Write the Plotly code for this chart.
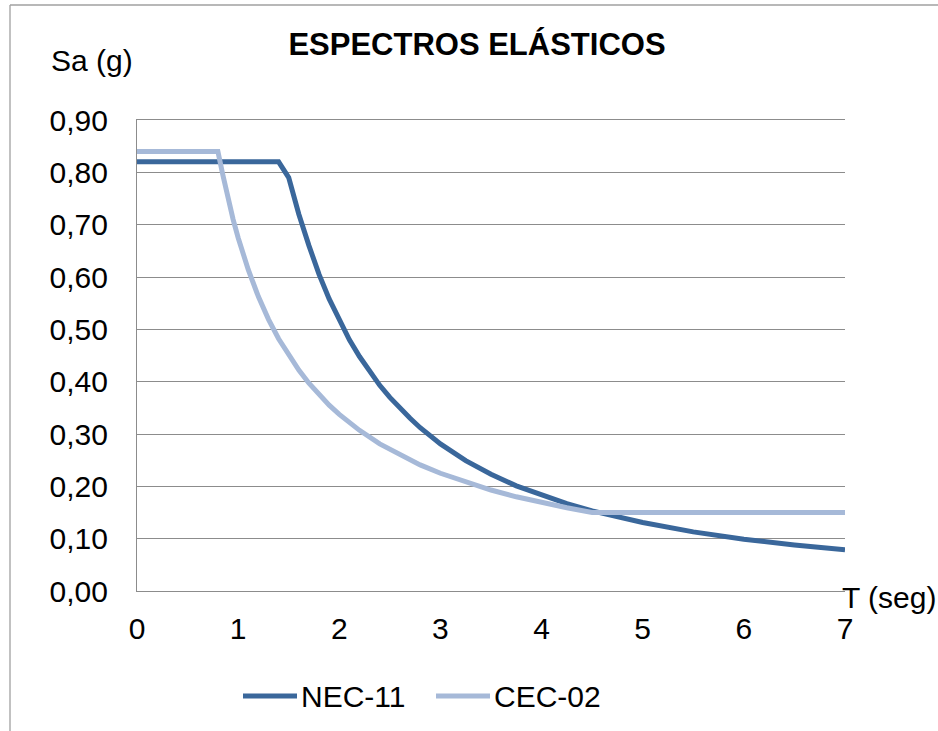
import plotly.graph_objects as go

# Periods (s) and spectral accelerations (g) for each code
t_nec = [0.0, 1.4, 1.5, 1.6, 1.7, 1.8, 1.9, 2.0, 2.1, 2.2, 2.3, 2.4, 2.5,
         2.6, 2.7, 2.8, 2.9, 3.0, 3.25, 3.5, 3.75, 4.0, 4.25, 4.5, 4.75,
         5.0, 5.5, 6.0, 6.5, 7.0]
sa_nec = [0.82, 0.82, 0.79, 0.72, 0.66, 0.605, 0.558, 0.517, 0.48, 0.448,
          0.419, 0.393, 0.37, 0.349, 0.33, 0.312, 0.296, 0.281, 0.249,
          0.223, 0.201, 0.183, 0.167, 0.153, 0.141, 0.131, 0.113, 0.099,
          0.088, 0.079]

t_cec = [0.0, 0.8, 0.85, 0.9, 0.95, 1.0, 1.1, 1.2, 1.3, 1.4, 1.5, 1.6, 1.7,
         1.8, 1.9, 2.0, 2.2, 2.4, 2.6, 2.8, 3.0, 3.25, 3.5, 3.75, 4.0, 4.25,
         4.5, 5.0, 6.0, 7.0]
sa_cec = [0.84, 0.84, 0.794, 0.75, 0.71, 0.675, 0.614, 0.5625, 0.519,
          0.482, 0.45, 0.422, 0.397, 0.375, 0.355, 0.3375, 0.307, 0.281,
          0.26, 0.241, 0.225, 0.208, 0.193, 0.18, 0.169, 0.159, 0.15, 0.15,
          0.15, 0.15]

y_ticks = [0.0, 0.1, 0.2, 0.3, 0.4, 0.5, 0.6, 0.7, 0.8, 0.9]
x_ticks = [0, 1, 2, 3, 4, 5, 6, 7]
series_names = ["NEC-11", "CEC-02"]

DARK = "#3A679B"
LIGHT = "#A6B9D8"
GRID = "#8C8C8C"
FONT = "Liberation Sans, Arial, sans-serif"
LW = 5

fig = go.Figure()
fig.add_trace(go.Scatter(x=t_nec, y=sa_nec, mode="lines", name=series_names[0],
                         line=dict(color=DARK, width=LW)))
fig.add_trace(go.Scatter(x=t_cec, y=sa_cec, mode="lines", name=series_names[1],
                         line=dict(color=LIGHT, width=LW)))


def px_x(p):
    """Horizontal pixel position -> paper fraction of the plot area."""
    return (p - 137) / 708


def px_y(p):
    """Vertical pixel position -> paper fraction of the plot area."""
    return (591 - p) / 471


# legend keys drawn below the plot: a long line sample followed by its name
legend_shapes = []
legend_notes = []
for name, color, x0, x1 in [(series_names[0], DARK, 243, 297),
                            (series_names[1], LIGHT, 436, 490)]:
    legend_shapes.append(dict(type="line", xref="paper", yref="paper",
                              x0=px_x(x0), x1=px_x(x1), y0=px_y(696),
                              y1=px_y(696),
                              line=dict(color=color, width=LW)))
    legend_notes.append(dict(text=name, xref="paper", yref="paper",
                             x=px_x(x1 + 2), y=px_y(696), xanchor="left",
                             yanchor="middle", showarrow=False,
                             font=dict(size=30)))

fig.update_layout(
    width=938, height=731,
    margin=dict(l=137, r=93, t=120, b=140),
    paper_bgcolor="white", plot_bgcolor="white",
    separators=",.",
    font=dict(family=FONT, size=30, color="black"),
    title=dict(text="<b>ESPECTROS ELÁSTICOS</b>", xref="paper",
               x=px_x(477), xanchor="center", yref="container",
               y=(731 - 44) / 731, yanchor="middle",
               font=dict(family=FONT, size=31, color="black")),
    showlegend=False,
    xaxis=dict(range=[0, 7], tickvals=x_ticks, showgrid=False,
               zeroline=False, showline=True, linecolor=GRID,
               linewidth=1.3, mirror=True, ticks="",
               ticklabelstandoff=11),
    yaxis=dict(range=[0, 0.9], tickvals=y_ticks, tickformat=".2f",
               showgrid=True, gridcolor=GRID, gridwidth=1.3,
               zeroline=False, showline=True, linecolor=GRID, linewidth=1.3,
               ticks="", ticklabelstandoff=22),
    shapes=[
        # frame around the chart (left and top edges)
        dict(type="line", xref="paper", yref="paper", x0=px_x(10),
             x1=px_x(10), y0=px_y(5), y1=px_y(760),
             line=dict(color="#A0A0A0", width=1.3)),
        dict(type="line", xref="paper", yref="paper", x0=px_x(10),
             x1=px_x(960), y0=px_y(5), y1=px_y(5),
             line=dict(color="#A0A0A0", width=1.3)),
    ] + legend_shapes,
    annotations=[
        dict(text="Sa (g)", xref="paper", yref="paper", x=px_x(92),
             y=px_y(60), xanchor="center", yanchor="middle",
             showarrow=False, font=dict(size=30)),
        dict(text="T (seg)", xref="paper", yref="paper", x=px_x(840),
             y=px_y(597), xanchor="left", yanchor="middle",
             showarrow=False, font=dict(size=30)),
    ] + legend_notes,
)

fig.write_html("out.html")
